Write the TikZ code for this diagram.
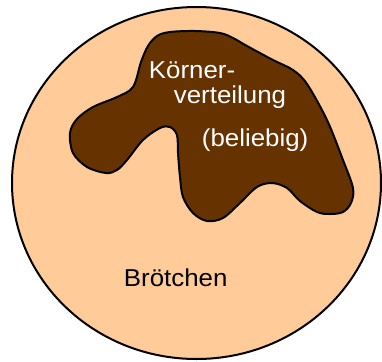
\documentclass[tikz,border=0pt]{standalone}
\usepackage{fontspec}
\setmainfont{Liberation Sans}
\usetikzlibrary{shapes.geometric}
\definecolor{bun}{RGB}{255,204,153}
\definecolor{grain}{RGB}{102,51,0}
\newcommand{\widetxt}[1]{\scalebox{1.06}[1]{#1}}
\tikzset{
  lbl/.style={anchor=base west, inner sep=0pt, font=\fontsize{12.2}{14}\selectfont},
}
\begin{document}
\begin{tikzpicture}[x=0.5pt,y=-0.5pt]
\useasboundingbox (0,0) rectangle (382,361);
\node[ellipse, draw=black, line width=1pt, fill=bun, inner sep=0pt,
      minimum width=369*0.5pt, minimum height=352*0.5pt] (roll) at (196.5,183) {};
\draw[line width=1pt, fill=grain] plot[smooth cycle, tension=0.55] coordinates {
(70,133) (77,119) (93,107) (117,97) (133,87) (141,62) (148,46) (157,36) (170,32)
(195,31) (220,33) (233,38) (247,46) (273,60) (293,70) (307,84) (327,120) (343,160)
(353,188) (351,203) (343,212) (330,214) (317,212) (300,201) (287,188) (272,183)
(257,187) (240,203) (223,218) (207,221) (193,213) (183,197) (180,177) (178,153)
(177,135) (170,127) (160,128) (143,140) (127,160) (117,170) (106,173) (87,167) (73,153)};
\node[lbl, text=white] (k1) at (148.5,78.3) {\widetxt{Körner-}};
\node[lbl, text=white] (k2) at (173.5,103.3) {\widetxt{verteilung}};
\node[lbl, text=white] (k3) at (201.5,146.7) {\widetxt{(beliebig)}};
\node[lbl, text=black] (b) at (123.5,286.7) {\widetxt{Brötchen}};
\end{tikzpicture}
\end{document}
